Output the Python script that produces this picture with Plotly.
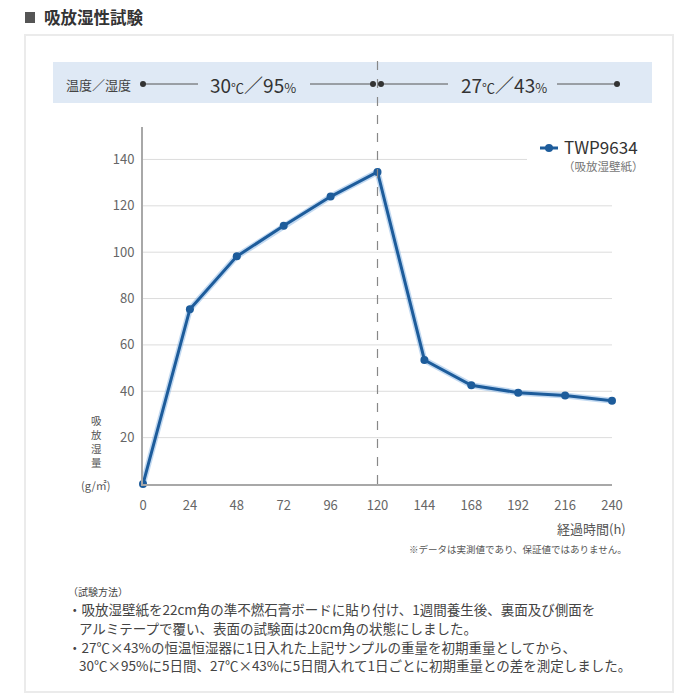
import plotly.graph_objects as go

# ---- data ----
hours = [0, 24, 48, 72, 96, 120, 144, 168, 192, 216, 240]
moisture = [0, 75.4, 98.2, 111.4, 124.0, 134.6, 53.5, 42.6, 39.4, 38.2, 35.9]
series_name = "TWP9634"
series_sub = "（吸放湿壁紙）"
y_ticks = [20, 40, 60, 80, 100, 120, 140]
x_ticks = [0, 24, 48, 72, 96, 120, 144, 168, 192, 216, 240]
y_title_chars = ["吸", "放", "湿", "量"]
y_unit = "(g/㎡)"
x_title = "経過時間(h)"
phase_labels = ["30<span style='font-size:13px'>℃</span>／95<span style='font-size:13px'>%</span>",
                "27<span style='font-size:13px'>℃</span>／43<span style='font-size:13px'>%</span>"]
phase_switch = 120
title = "吸放湿性試験"
notes = [
    "（試験方法）",
    "・吸放湿壁紙を22cm角の準不燃石膏ボードに貼り付け、1週間養生後、裏面及び側面を",
    "アルミテープで覆い、表面の試験面は20cm角の状態にしました。",
    "・27℃×43%の恒温恒湿器に1日入れた上記サンプルの重量を初期重量としてから、",
    "30℃×95%に5日間、27℃×43%に5日間入れて1日ごとに初期重量との差を測定しました。",
]

FONT = "Noto Sans CJK JP, Noto Sans, sans-serif"
L, R, T, B = 143, 612, 127, 484  # plot area in px
W, H = 700, 700


def px(x):
    return (x - L) / (R - L)


def py(y):
    return (B - y) / (B - T)


BLUE = "#1d5c9b"
fig = go.Figure()
fig.add_trace(go.Scatter(
    x=hours, y=moisture, mode="lines", name=series_name + "_halo",
    line=dict(color="rgba(120,170,225,0.45)", width=6), hoverinfo="skip",
    cliponaxis=False, showlegend=False,
))
fig.add_trace(go.Scatter(
    x=hours, y=moisture, mode="lines+markers", name=series_name,
    line=dict(color=BLUE, width=3), marker=dict(color=BLUE, size=8),
    cliponaxis=False, showlegend=False,
))

shapes = []
ann = []

# outer panel
shapes.append(dict(type="rect", xref="paper", yref="paper", x0=px(25), x1=px(673), y0=py(692), y1=py(35),
                   line=dict(color="#ebebeb", width=2), fillcolor="rgba(0,0,0,0)", layer="below"))
# band
shapes.append(dict(type="rect", xref="paper", yref="paper", x0=px(53), x1=px(652), y0=py(103), y1=py(62),
                   line=dict(width=0), fillcolor="#dfe9f5", layer="below"))
# gridlines
for v in y_ticks:
    xe = 527 if v == 140 else R
    shapes.append(dict(type="line", xref="paper", yref="y", x0=0, x1=px(xe), y0=v, y1=v,
                       line=dict(color="#dcdcdc", width=1), layer="below"))
# dashed switch line
shapes.append(dict(type="line", xref="x", yref="paper", x0=phase_switch, x1=phase_switch, y0=0, y1=py(52),
                   line=dict(color="#888888", width=1.2, dash="dash")))
# band lines and dots
band_y = py(84)
for a, b in [(143, 198), (310, 373), (381, 448), (557, 617)]:
    shapes.append(dict(type="line", xref="paper", yref="paper", x0=px(a), x1=px(b), y0=band_y, y1=band_y,
                       line=dict(color="#555555", width=1)))
for cx in [143, 373, 381, 617]:
    shapes.append(dict(type="circle", xref="paper", yref="paper", xsizemode="pixel", ysizemode="pixel",
                       xanchor=px(cx), yanchor=band_y, x0=-3, x1=3, y0=-3, y1=3,
                       fillcolor="#333333", line=dict(width=0)))
ann.append(dict(xref="paper", yref="paper", x=px(64), y=band_y, xanchor="left", yanchor="middle",
                text="温度／湿度", showarrow=False, font=dict(family=FONT, size=13, color="#444")))
ann.append(dict(xref="paper", yref="paper", x=px(253), y=band_y, xanchor="center", yanchor="middle",
                text=phase_labels[0], showarrow=False, font=dict(family=FONT, size=19, color="#333")))
ann.append(dict(xref="paper", yref="paper", x=px(504), y=band_y, xanchor="center", yanchor="middle",
                text=phase_labels[1], showarrow=False, font=dict(family=FONT, size=19, color="#333")))

# title
shapes.append(dict(type="rect", xref="paper", yref="paper", x0=px(25), x1=px(35), y0=py(23), y1=py(12),
                   fillcolor="#555555", line=dict(width=0)))
ann.append(dict(xref="paper", yref="paper", x=px(42), y=py(17), xanchor="left", yanchor="middle",
                text="<b>" + title + "</b>", showarrow=False, font=dict(family=FONT, size=16.5, color="#333")))

# legend
shapes.append(dict(type="line", xref="paper", yref="paper", x0=px(540), x1=px(558), y0=py(148), y1=py(148),
                   line=dict(color=BLUE, width=3)))
shapes.append(dict(type="circle", xref="paper", yref="paper", xsizemode="pixel", ysizemode="pixel",
                   xanchor=px(549), yanchor=py(148), x0=-4, x1=4, y0=-4, y1=4,
                   fillcolor=BLUE, line=dict(width=0)))
ann.append(dict(xref="paper", yref="paper", x=px(562), y=py(146), xanchor="left", yanchor="middle",
                text=series_name, showarrow=False, font=dict(family=FONT, size=17, color="#333")))
ann.append(dict(xref="paper", yref="paper", x=px(561), y=py(166), xanchor="left", yanchor="middle",
                text=series_sub, showarrow=False, font=dict(family=FONT, size=11.5, color="#777")))

# axis titles
for i, ch in enumerate(y_title_chars):
    ann.append(dict(xref="paper", yref="paper", x=px(96), y=py(420 + 14 * i), xanchor="center",
                    yanchor="middle", text=ch, showarrow=False, borderpad=0,
                    font=dict(family=FONT, size=10.5, color="#555")))
ann.append(dict(xref="paper", yref="paper", x=px(96), y=py(485), xanchor="center", yanchor="middle",
                text=y_unit, showarrow=False, font=dict(family=FONT, size=11, color="#555")))
ann.append(dict(xref="paper", yref="paper", x=px(628), y=py(528), xanchor="right", yanchor="middle",
                text=x_title, showarrow=False, font=dict(family=FONT, size=13, color="#555")))
ann.append(dict(xref="paper", yref="paper", x=px(629), y=py(549), xanchor="right", yanchor="middle",
                text="※データは実測値であり、保証値ではありません。", showarrow=False,
                font=dict(family=FONT, size=9.5, color="#555")))

# notes
note_pos = [(66, 591, 10), (66, 609, 13.5), (77, 628, 13.5), (66, 647, 13.5), (77, 665, 13.5)]
for t, (nx, ny, fs) in zip(notes, note_pos):
    ann.append(dict(xref="paper", yref="paper", x=px(nx), y=py(ny), xanchor="left", yanchor="middle",
                    text=t, showarrow=False, font=dict(family=FONT, size=fs, color="#444")))

fig.update_layout(
    width=W, height=H,
    margin=dict(l=L, r=W - R, t=T, b=H - B, pad=0),
    paper_bgcolor="white", plot_bgcolor="white",
    font=dict(family=FONT, color="#666"),
    shapes=shapes, annotations=ann, showlegend=False,
    xaxis=dict(range=[0, 240], tickvals=x_ticks, showgrid=False, zeroline=False,
               showline=True, linecolor="#a8a8a8", linewidth=2, ticks="",
               tickfont=dict(family=FONT, size=13, color="#666"), ticklabelstandoff=8),
    yaxis=dict(range=[0, 154], tickvals=y_ticks, showgrid=False, zeroline=False,
               showline=True, linecolor="#a8a8a8", linewidth=2, ticks="",
               tickfont=dict(family=FONT, size=13, color="#666"), ticklabelstandoff=4),
)

fig.write_html("out.html", config={"displayModeBar": False},
               post_script="document.body.style.margin='0';document.body.style.overflow='hidden';")
